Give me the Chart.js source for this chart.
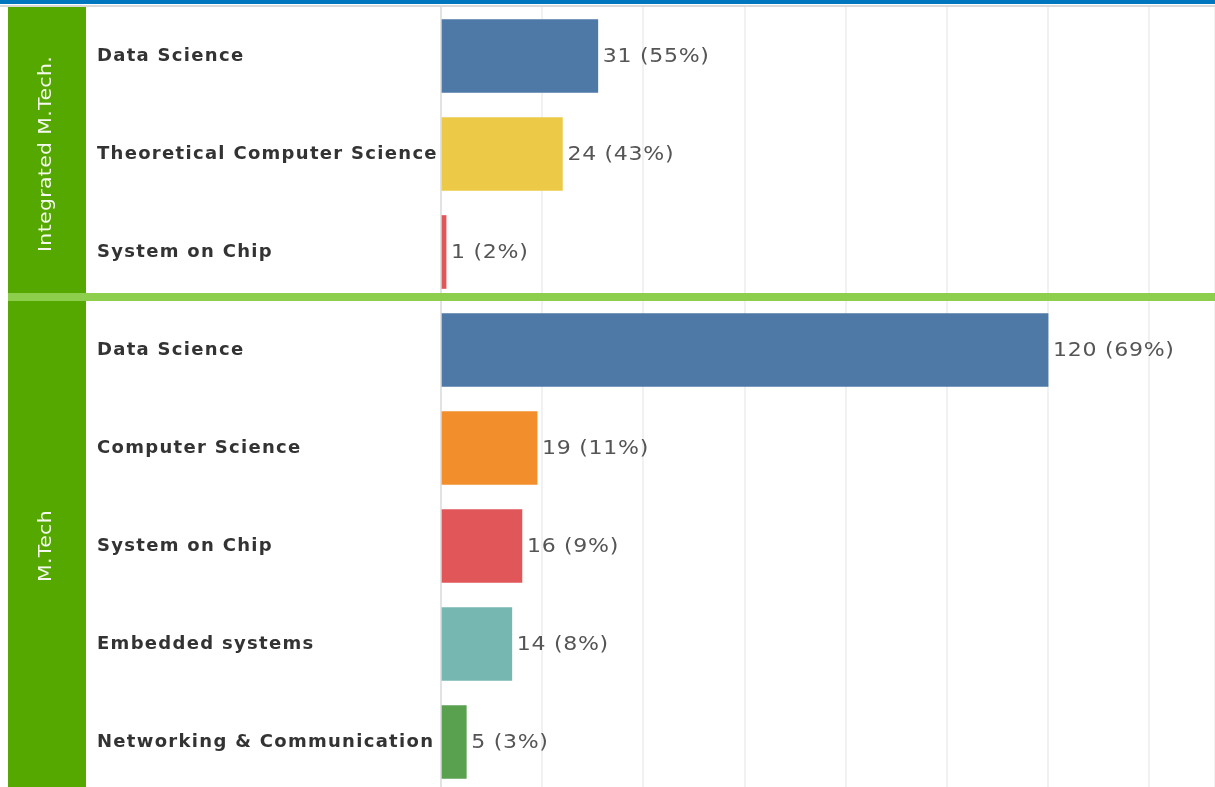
<!DOCTYPE html>
<html>
<head>
<meta charset="utf-8">
<title>Students by program and specialisation</title>
<script src="https://cdn.jsdelivr.net/npm/chart.js@4.4.1/dist/chart.umd.min.js"></script>
<style>
  html, body { margin: 0; padding: 0; background: #fff; overflow: hidden; }
  #wrap { width: 1215px; height: 787px; overflow: hidden; }
  canvas { display: block; }
</style>
</head>
<body>
<div id="wrap"><canvas id="c" width="1215" height="800"></canvas></div>
<script>
// Programs (drawn as the vertical bands on the left) and their rows
const programs = ['Integrated M.Tech.', 'M.Tech'];
const programRows = [3, 5];

// Specialisations, in row order
const specialisations = [
  'Data Science', 'Theoretical Computer Science', 'System on Chip',
  'Data Science', 'Computer Science', 'System on Chip', 'Embedded systems', 'Networking & Communication'
];

// Number of students per specialisation
const students = [31, 24, 1, 120, 19, 16, 14, 5];

// Share of the program, in percent
const shares = [55, 43, 2, 69, 11, 9, 8, 3];

const colorBySpec = {
  'Data Science': '#4E79A7',
  'Theoretical Computer Science': '#EDC948',
  'System on Chip': '#E15759',
  'Computer Science': '#F28E2B',
  'Embedded systems': '#76B7B2',
  'Networking & Communication': '#59A14F'
};

const GREEN = '#55A800';
const GREEN_LIGHT = '#8DCF4C';

const frame = {
  id: 'frame',
  beforeDraw(chart) {
    const ctx = chart.ctx;
    const { width, height } = chart;
    ctx.save();
    ctx.fillStyle = '#ffffff';
    ctx.fillRect(0, 0, width, height);
    // header stripe
    ctx.fillStyle = '#0076BF';
    ctx.fillRect(0, 0, width, 4);
    ctx.fillStyle = '#d9d9d9';
    ctx.fillRect(0, 5, width, 2);
    // program band
    ctx.fillStyle = GREEN;
    ctx.fillRect(8, 7, 78, height - 7);
    ctx.restore();
    ctx.letterSpacing = '1.3px';
  },
  afterDatasetsDraw(chart) {
    const ctx = chart.ctx;
    const meta = chart.getDatasetMeta(0);
    ctx.save();
    ctx.letterSpacing = '0.6px';
    ctx.font = '19px "DejaVu Sans"';
    ctx.fillStyle = '#555555';
    ctx.textAlign = 'left';
    ctx.textBaseline = 'middle';
    meta.data.forEach((bar, i) => {
      ctx.save();
      ctx.translate(bar.x + 5, bar.y + 1);
      ctx.scale(1.16, 1);
      ctx.fillText(students[i] + ' (' + shares[i] + '%)', 0, 0);
      ctx.restore();
    });
    ctx.restore();
  },
  afterDraw(chart) {
    const ctx = chart.ctx;
    const y = chart.scales.y;
    ctx.save();
    // separators between programs and program names
    let start = 0;
    programs.forEach((name, p) => {
      const end = start + programRows[p] - 1;
      const mid = (y.getPixelForValue(start) + y.getPixelForValue(end)) / 2;
      ctx.save();
      ctx.translate(51, mid);
      ctx.rotate(-Math.PI / 2);
      ctx.scale(1.2, 1);
      ctx.letterSpacing = '0.3px';
      ctx.font = '17px "DejaVu Sans"';
      ctx.fillStyle = '#f4f8ef';
      ctx.textAlign = 'center';
      ctx.textBaseline = 'alphabetic';
      ctx.fillText(name, 0, 0);
      ctx.restore();
      if (p < programs.length - 1) {
        const b = (y.getPixelForValue(end) + y.getPixelForValue(end + 1)) / 2;
        ctx.fillStyle = GREEN_LIGHT;
        ctx.fillRect(8, b - 8, chart.width - 8, 8);
      }
      start += programRows[p];
    });
    ctx.restore();
  }
};

new Chart(document.getElementById('c'), {
  type: 'bar',
  data: {
    labels: specialisations,
    datasets: [{
      data: students,
      backgroundColor: specialisations.map(s => colorBySpec[s]),
      borderWidth: 0,
      barThickness: 73
    }]
  },
  options: {
    indexAxis: 'y',
    responsive: false,
    animation: false,
    devicePixelRatio: 1,
    layout: { autoPadding: false, padding: { left: 97, top: 7, right: 0, bottom: 9 } },
    plugins: { legend: { display: false }, tooltip: { enabled: false } },
    scales: {
      x: {
        type: 'linear',
        min: 0,
        max: 153,
        ticks: { display: false, stepSize: 20 },
        grid: {
          drawTicks: false,
          lineWidth: 2,
          color: ctx => ctx.tick && ctx.tick.value === 0 ? '#e2e2e2' : '#f1f1f1'
        },
        border: { display: false },
        afterFit(scale) {
          scale.height = 0;
          scale.paddingLeft = 0; scale.paddingRight = 0;
          scale.paddingTop = 0; scale.paddingBottom = 0;
        }
      },
      y: {
        grid: { display: false, drawTicks: false },
        border: { display: false },
        ticks: {
          crossAlign: 'far',
          color: '#333333',
          font: { family: '"DejaVu Sans"', size: 18, weight: 'bold' }
        },
        afterFit(scale) {
          scale.width = 344;
          scale.paddingTop = 0; scale.paddingBottom = 0;
          scale.paddingLeft = 0; scale.paddingRight = 0;
        }
      }
    }
  },
  plugins: [frame]
});
</script>
</body>
</html>
